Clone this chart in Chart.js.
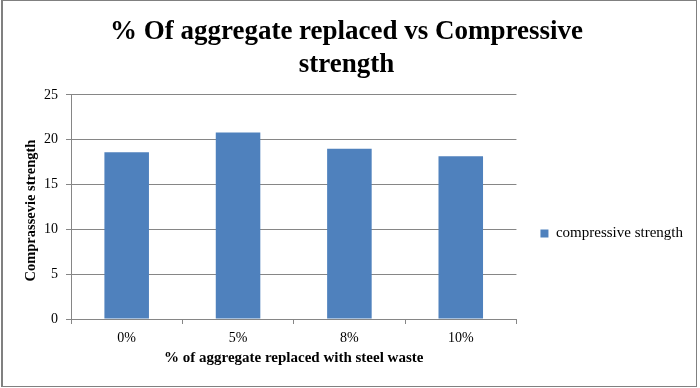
<!DOCTYPE html>
<html>
<head>
<meta charset="utf-8">
<script src="https://cdn.jsdelivr.net/npm/chart.js@4"></script>
<style>
  html, body { margin: 0; padding: 0; background: #fff; }
  #frame {
    position: absolute; left: 1px; top: 0; width: 696px; height: 387px;
    box-sizing: border-box; border: 1px solid #808080; border-left-width: 2px;
  }
  #wrap { position: absolute; left: 0; top: 0; width: 700px; height: 388px; }
</style>
</head>
<body>
<div id="frame"></div>
<div id="wrap"><canvas id="strengthChart"></canvas></div>
<script>
// % replacement vs compressive strength
const categories = ['0%', '5%', '8%', '10%'];
const strength = [18.6, 20.8, 19.0, 18.15];
const yTicks = [0, 5, 10, 15, 20, 25];

const serif = '"Liberation Serif", "Times New Roman", serif';
const gridGrey = '#868686';

// nudge the legend to where excel put it
const legendNudge = {
    id: 'legendNudge',
    afterLayout(chart) {
        const lg = chart.legend;
        if (!lg) return;
        lg.left += 14; lg.right += 14;
        lg.top += 43; lg.bottom += 43;
    }
};

document.addEventListener('DOMContentLoaded', () => {
    const ctx = document.getElementById('strengthChart').getContext('2d');

    new Chart(ctx, {
        type: 'bar',
        data: {
            labels: categories,
            datasets: [{
                label: 'compressive strength',
                data: strength,
                backgroundColor: '#4F81BD',
                barPercentage: 0.4,
                categoryPercentage: 1.0
            }]
        },
        plugins: [legendNudge],
        options: {
            responsive: true,
            maintainAspectRatio: false,
            animation: false,
            layout: {
                padding: { left: 14, right: 21, top: 14, bottom: 21 }
            },
            plugins: {
                title: {
                    display: true,
                    text: ['% Of aggregate replaced vs Compressive', 'strength'],
                    color: '#000',
                    font: { family: serif, size: 27, weight: 'bold', lineHeight: 1.22 },
                    padding: { top: 2, bottom: 13 }
                },
                legend: {
                    position: 'right',
                    labels: {
                        boxWidth: 8,
                        boxHeight: 8,
                        color: '#000',
                        padding: 10,
                        font: { family: serif, size: 15 }
                    }
                },
                tooltip: { enabled: false }
            },
            scales: {
                x: {
                    afterFit: scale => {
                        scale.height = 48;
                    },
                    grid: {
                        offset: true,
                        drawOnChartArea: false,
                        drawTicks: true,
                        tickLength: 5,
                        color: gridGrey
                    },
                    border: { color: gridGrey },
                    ticks: {
                        color: '#000',
                        padding: 6,
                        font: { family: serif, size: 14 }
                    },
                    title: {
                        display: true,
                        text: '% of aggregate replaced with steel waste',
                        color: '#000',
                        font: { family: serif, size: 15, weight: 'bold' },
                        padding: { top: 3, bottom: 0 }
                    }
                },
                y: {
                    min: 0,
                    max: 25,
                    afterBuildTicks: scale => {
                        scale.ticks = yTicks.map(v => ({ value: v }));
                    },
                    afterFit: scale => {
                        scale.width = 57;
                    },
                    grid: {
                        color: gridGrey,
                        tickLength: 5
                    },
                    border: { color: gridGrey },
                    ticks: {
                        color: '#000',
                        padding: 8,
                        font: { family: serif, size: 14 }
                    },
                    title: {
                        display: true,
                        text: 'Comprassevie strength  ',
                        color: '#000',
                        font: { family: serif, size: 14.5, weight: 'bold' },
                        padding: { top: 9, bottom: 0 }
                    }
                }
            }
        }
    });
});
</script>
</body>
</html>
